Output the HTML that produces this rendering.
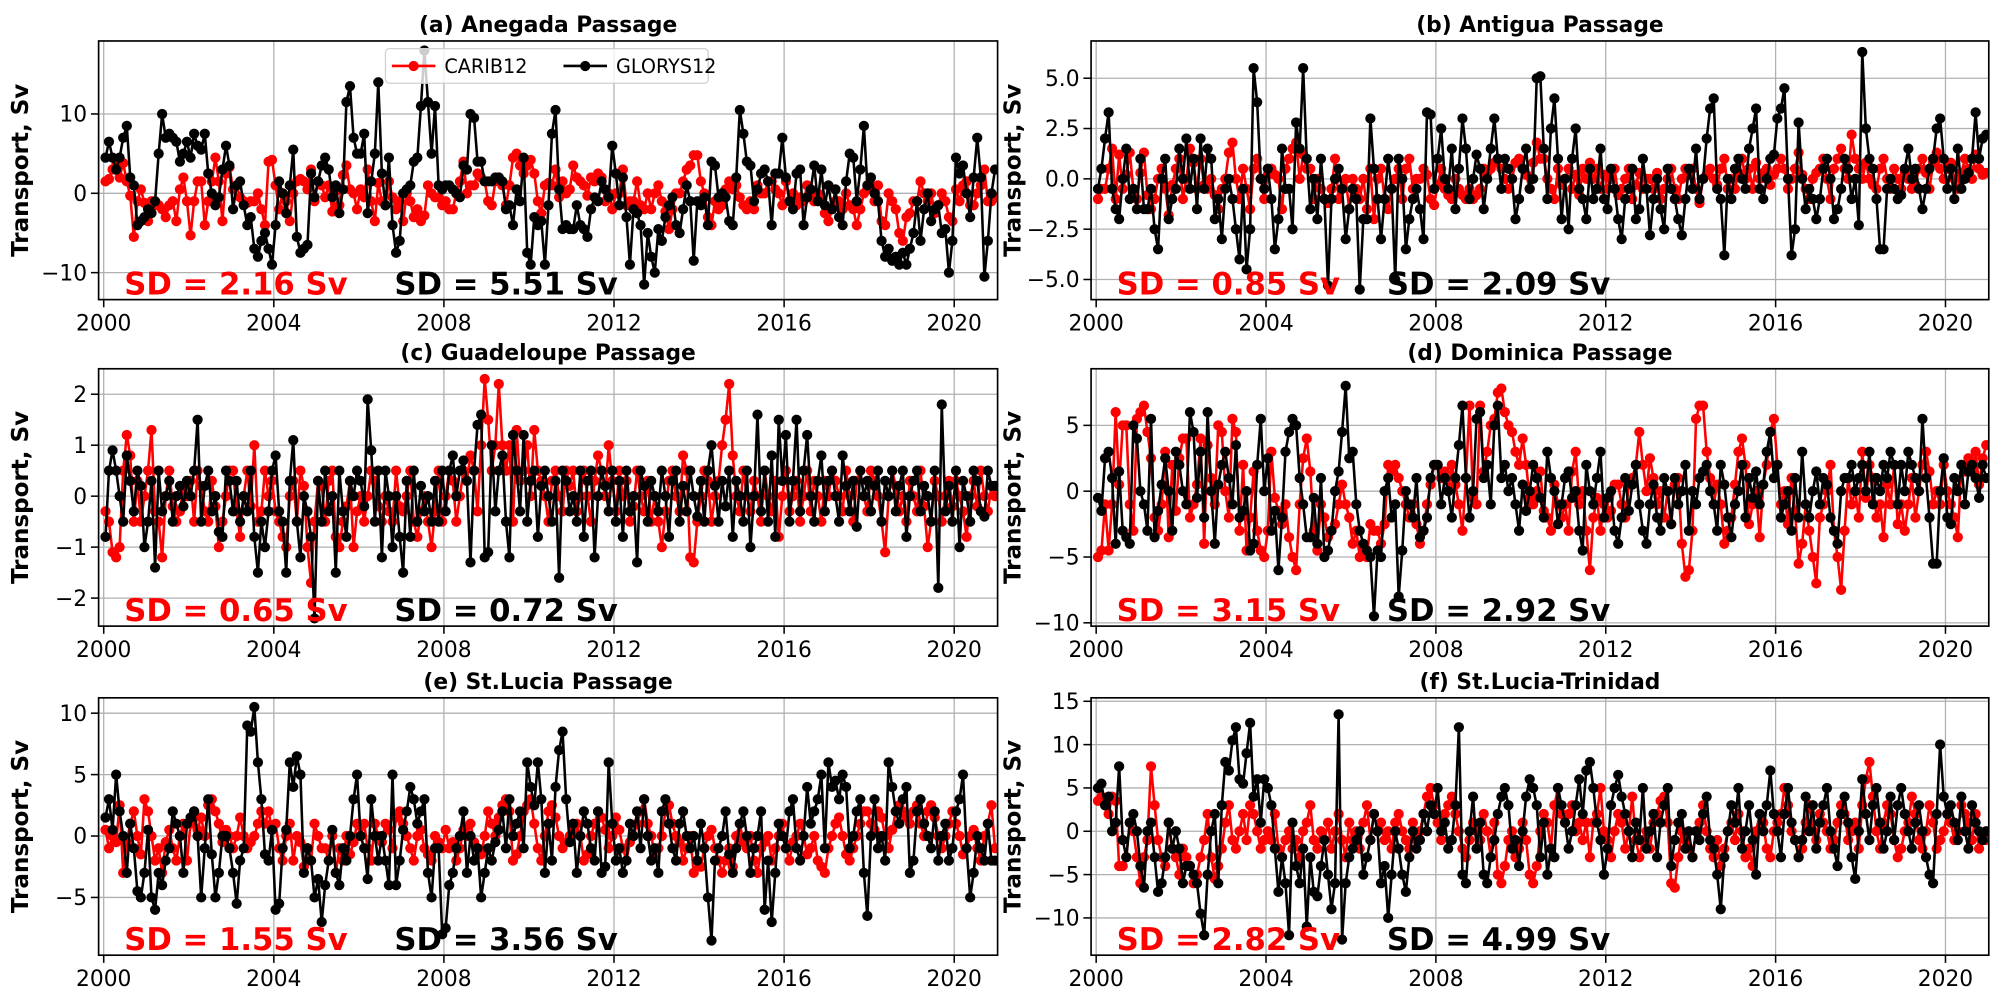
<!DOCTYPE html>
<html><head><meta charset="utf-8"><style>
html,body{margin:0;padding:0;background:#fff;}
svg{display:block;font-family:"DejaVu Sans","Liberation Sans",sans-serif;}
</style></head><body>
<svg id="chart" width="2008" height="1000" viewBox="0 0 1568 781" preserveAspectRatio="none" xmlns="http://www.w3.org/2000/svg"></svg>
<script>
const panelTitles = ["(a) Anegada Passage","(b) Antigua Passage","(c) Guadeloupe Passage","(d) Dominica Passage","(e) St.Lucia Passage","(f) St.Lucia-Trinidad"];
const sdCarib = ["2.16","0.85","0.65","3.15","1.55","2.82"];
const sdGlorys = ["5.51","2.09","0.72","2.92","3.56","4.99"];
const xTickYears = [2000,2004,2008,2012,2016,2020];
const startYear = 2000;

const aRed=[1.5,1.8,3,3.5,2,3.8,1.5,-0.3,-5.5,-1,0.5,-1.2,-3.5,-1,-1.5,-1.5,-2,-3,-1.5,-1,-3.5,0.5,2,-1,-5.3,-1,1.5,1.5,-4,-1,1.5,4.5,1.5,-3.5,2.5,3.3,0.5,1,-0.5,-1,-1.2,-1,-1,0,-2,-4,4,4.2,1,-2,0,-1,-3.5,0,1.5,1.8,1.5,0.5,3,-1,1.5,1,-0.5,1,-2.3,0.3,-1.5,2.3,3.5,0.5,0,-2,0.5,-0.5,3,-1,-3.5,1.3,-1,-1.5,1.5,-0.5,-2,-1,-3.5,0,-1,-3,-2,-3.5,-2.8,1,0,-0.5,-0.5,-1.5,-1,-2,-2,0,1.5,4,0,1,1,2.5,2,1.5,-1,-1.5,1.5,2,1,-1.5,1,4.5,5,3.5,2.5,3.5,4.2,2.5,-1,-2.5,1,1.3,1,3,-0.5,1.5,0,0.5,3.5,2,1.5,1,-0.3,2,1.5,2.5,2,-1,0,-2,0,0,3,-1.5,-1,-1,1.5,-1.5,-2,0,-2,0,1,-1,-2.3,-4.5,-2,0,0,1.5,3,3.5,4.8,4.8,1.5,0,-3,-4,-1,-2,-1.5,0.5,1.5,0.5,1,-0.5,-1.5,-2,-1,-2,1,0,0,1.5,1.5,0.5,0,-1.5,1.5,-1,0,-1.5,-0.5,-1,1,0.5,-1,0,-1,-2.5,-3.5,-2,-1,-1,-2,0,-1.5,-2,-4,-2,0,0.5,1,-1,1,-3.5,-4,0,-1,-2,-5,-6,-3,-2.5,-1,-1,1.5,0,-1,0,-2.5,-1.5,0,-1,-3,-3.5,0.5,-1,1,1.5,-1.5,-1.5,0,1,3,-1,-1,-0.5];
const aBlack=[4.5,6.5,4.5,3,4.5,7,8.5,2,1,-4,-3.5,-3,-2,-2.5,-1,5,10,7,7.5,7,6.5,4,5,6.5,4.5,7.5,6,5.5,7.5,2.5,0,-1.5,-0.5,3,6,3.5,-2,1,1.5,-1.5,-4,-3,-7,-8,-6,-5,-7,-9,-4,1.5,0,-2.5,1,5.5,-5.5,-7.5,-7,-6.5,2.5,-0.5,1.5,3.5,4.5,3,-0.5,1,-2.5,0.5,11.5,13.5,7,5,5,7.5,-2.5,1.5,5,14,2.5,-1.5,4.5,-4,-7.5,-6,0,0.5,1,4,4.5,11,18,11.5,5,11,1,0.5,1,1,0.5,0,-0.5,3.5,3,10,9.5,4,4,1.5,1.5,1.5,2,2,1.5,-2,-1.5,-4,0.5,-1,4.5,-7.5,-9,-3,-4,-3.5,-9,-1.5,7.5,10.5,0.5,-4.5,-4,-4.5,-4.5,-1.5,-4,-4.5,-5.5,-2,-0.5,-1,1.5,0.5,-0.5,6,2.5,-1.5,2,-3,-9,-2,-2.5,-4,-11.5,-5,-8,-10,-4.5,-6,-3,-1.5,-0.5,-4,-5,-2,1,-1,-8.5,-1,-1.5,-0.5,-4,4,3.5,-0.5,0,-0.5,-3.5,-4,2,10.5,7.5,4,3.5,-1,0.5,2.5,3,1.5,-4,2.5,2.5,7,2,-1,-2,2.5,3,-4,-0.5,0.5,3.5,-1,3,-1.5,1,-2,0.5,-3,-4,1.5,5,4.5,-1,3,8.5,1,2,0,-1,-6,-8,-7,-8.5,-8,-9,-7.5,-9,-7,-5,-1,-6,-2,0,-3.5,-2,-1.5,-5,-4.5,-10,-6,4.5,2.5,3.5,0,-3,2,7,2,-10.5,-6,0,3];
const bRed=[-1,-0.5,-0.5,0.5,1.5,-1,1.2,-0.5,0.2,1.3,-0.5,-1,0.3,1.3,-0.8,-1.5,-1,0,0.5,-0.5,-1.8,-0.3,0.5,1,-1,0,1.5,0.8,-0.5,1,-0.3,-0.5,0,-0.8,-1.5,-0.5,0,1.3,1.8,0,-1,0.5,-0.5,-1.5,0.5,1,0,-1,0.2,0.5,0.2,0,-1.5,0.5,1,1.5,1.8,0,1.2,0.5,0.5,-1,0,-0.5,-1,-1.2,-0.5,1,-1,-0.5,0,-1.5,0,-0.5,-1,0,-1.5,0.5,-2,0,0.5,-1,-1.5,-0.5,0,0.5,-1,0.5,1,-0.5,0,0,0.5,0.2,-1,-1.3,-0.3,0.5,-0.5,-0.8,-1,0,-0.5,-0.8,-1,-0.5,-1,-0.8,-0.5,0.5,0.3,0.5,0.8,1,0.5,0,-0.5,0,0.8,1,0.5,0.2,-0.5,0.8,1.8,1,1,0,-0.5,-1,0.5,-0.3,0,0.5,-0.5,0.2,-0.8,0.5,0,0.8,0,0.5,-0.5,0.2,-0.5,0,0.5,-0.8,-0.5,0,0.5,-1,-0.3,0.3,-0.5,0,0,-0.5,0.3,-1,-0.5,0,0.5,-0.5,-1,0,0.5,0.2,0.5,-0.5,-1.2,0,0.2,0.5,0,-0.3,0.5,1,-0.5,0,-0.5,0.3,1,0,0.5,-0.5,0.8,0,0.3,0.5,-0.3,0.2,0.5,1,0.5,-0.5,0,0.5,1.3,0.2,-0.5,-1,0,0.3,0.5,1,0,-1,0.5,1,1.5,0.5,0,2.2,1,0.5,0,0.8,0,-0.3,-0.5,0.5,1,0,-0.5,0.5,0,-0.5,0.3,0,-0.5,-0.3,0.5,1,0.3,-0.5,0.8,1.3,0.5,0,0.5,0.8,0,-0.5,0.3,1,0.5,0,1.2,0.5,0.2,0.3];
const bBlack=[-0.5,0.5,2,3.3,-0.5,-1.5,-2,0,1.5,-1,-0.5,-1.5,1,-1.5,-1.5,-0.5,-2.5,-3.5,0,1,-2,-1,-0.5,1.5,0,2,-0.5,1,-1.5,2,-0.5,1.5,1,-2,-1,-3,-0.5,0,-1,-2.5,-4,-0.5,-4.5,-2.5,5.5,3.8,0,-0.5,0.5,-1,-3.5,-2,1.5,-0.5,-0.5,-2.5,2.8,1.5,5.5,1,-1.5,0,-2,1,-1,-5.3,-1,0,0.5,-0.5,-3,-1.5,-0.5,-1,-5.5,-2,-2,3,0.5,-1,-3,-1,1,-0.5,-5,1,0,-3.5,-2,-1,-0.5,-1.5,-3,3.3,3.2,-0.5,1,2.5,0,-0.5,1.5,-1.5,0.5,3,1.5,-1,0,1.2,0.5,-1.5,0,1.5,3,1,-0.5,1,0.5,0,-2,-1,0.5,1.5,-0.5,0,5,5.1,1.5,-1,2.5,4,1,-2,0,-2.5,1,2.5,-0.5,-1,-2,0.5,-1,-0.5,1.5,-1,-1.5,0.5,-0.5,-2,-3,-1,-0.5,0.5,-2,-1.5,1,-0.5,-2.8,-1,0,-1.5,-2.5,0.5,-0.5,-1,-2,-2.8,-1,0.5,-0.5,1.5,-1,0,2,3.5,4,-0.5,-1,-3.8,0,-1,0.5,1,0,-0.5,1.5,2.5,3.5,-0.5,-1,0,1,1.2,3,3.5,4.5,0,-3.8,-2.5,2.8,0,-1.5,-0.5,-1,-2,-1,0.5,1,0,-2,-1.5,-0.5,1,0.5,-1,0,-2.3,6.3,2.5,1,0.5,-1,-3.5,-3.5,-0.5,0,-0.5,-1,-0.8,0.5,1.5,0,0.5,-0.5,-1.5,-0.5,0.5,1,2.5,3,1,-0.5,0.5,-1,1.5,-0.5,0,0.3,1,3.3,1,2,2.2];
const cRed=[-0.3,-0.5,-1.1,-1.2,-1,0.5,1.2,0.8,-0.5,0.3,-0.5,0,0.5,1.3,-0.3,-0.5,-1.2,0,0.5,-0.2,-0.5,-0.3,0.2,0,0.3,-0.5,0.5,0.2,-0.3,-0.5,0.3,-0.2,-1,-0.5,0,0.5,0.5,-0.3,-0.8,0,0.5,-0.2,1,-0.5,-0.3,0.5,0,0.3,-0.3,-0.5,-0.8,-1,0,0.3,-0.5,0.5,0.2,-1,-1.7,-0.5,0.3,0.2,-0.5,0.3,0.5,-0.8,-1,-0.5,-0.2,0.3,-1,-0.3,0,-0.5,0,0.5,0.3,-0.2,-0.5,0,-0.3,-0.5,0.5,-0.2,-0.3,0,0.5,-0.5,-0.8,-0.3,0,-0.5,-1,-0.3,0.5,-0.5,0,0.5,0.3,-0.5,0,0.5,0.3,0.8,0.5,-0.3,1,2.3,1.5,0.5,1,2.2,1,0.5,1,-0.5,1.3,0.3,0.5,1,0,1.3,0.5,0.3,0,-0.5,0.3,0.5,0,-0.3,0.5,0.2,0.5,-0.3,0,0.5,0,-0.5,0.3,0.8,0.5,0,1,0.3,-0.3,0.5,0,0.3,-0.5,-0.2,0.5,0,-0.3,0.3,-0.5,0,-0.5,-1,-0.3,0.3,0.5,0,-0.3,0.8,0.5,-1.2,-1.3,-0.5,0,0.5,0.3,-0.5,0,0.3,1,1.5,2.2,0.8,0,-0.3,0.5,0,-0.3,0.3,0,-0.5,0.5,0,-0.3,0.3,-0.8,0,0.5,-0.3,0,0.3,-0.5,0,0.5,-0.3,0.3,0,-0.5,0.3,0,0.5,0.3,0,-0.3,0.5,0,-0.5,0.3,0.5,0,-0.3,0.5,0.3,0,-0.5,-1.1,0,0.5,0.2,-0.3,0,-0.5,0.3,0,-0.3,0.5,-0.2,-1,-0.5,0.3,0,-0.5,0,0.3,-0.2,0.3,0,-0.3,-0.8,0,0.3,-0.2,0.5,0,-0.3,0.2,0];
const cBlack=[-0.8,0.5,0.9,0.5,0,-0.5,0.8,0.3,-0.3,0.5,0.2,-1,-0.5,0.3,-1.4,0.5,-0.3,0,0.3,-0.5,0,0.2,-0.2,0.3,0,0.5,1.5,-0.5,0.2,0.5,-0.3,0,-0.7,-0.8,0.5,0.3,-0.3,0.3,-0.5,0,-0.3,0.5,-0.8,-1.5,-0.5,-1,-0.3,0.5,0.8,-0.3,-0.5,-1.5,0.3,1.1,-0.5,-1.2,0,-0.3,-0.8,-2.4,0.3,-0.5,0.5,-0.3,0,-1.5,0.5,-0.3,-0.8,0.3,0,0.5,0.3,-0.2,1.9,0.9,-0.5,0.5,-1.2,0.5,0,-1,0,-0.8,-1.5,0.3,-0.8,0.5,-0.5,0.2,-0.3,0,-0.5,0.3,-0.5,0.5,-0.3,0.5,0.8,0,0.5,0.7,0.3,-1.3,0.5,1.4,1.6,-1.2,-1.1,1,-0.3,0.5,0.8,-0.5,-1.2,1.2,0.5,-0.3,1.2,-0.5,0.3,0.5,-0.8,0.2,0.5,0,-0.5,0.3,-1.6,0.5,0.3,-0.3,0,-0.5,0.5,-0.8,0.3,0.5,-1.2,0,0.5,0.2,-0.3,0.5,-0.5,0.3,-0.8,0.5,-0.3,0,-1.3,0.5,0.2,-0.5,0.3,0,-0.3,0.5,0,-0.8,0.3,0.5,-0.5,0.2,-0.3,0.5,0,-0.4,0.3,-0.5,0.5,1,0.2,-0.5,0.3,-0.2,0.5,-0.8,0.3,0,-0.5,0.5,-1,0,1.6,-0.3,0.5,-0.5,0.8,-0.8,1.5,0.3,1.2,-0.5,0.3,1.5,-0.3,0.5,1.2,0,-0.5,0.3,0.8,-0.3,0.3,0.5,0,-0.5,0.8,0.2,-0.3,0.3,-0.6,0.5,0,0.3,-0.3,0.2,0.5,-0.5,0.3,0,0.5,-0.3,0.2,0.5,-0.8,0,0.3,0.5,-0.3,0.2,0,-0.5,0.5,-1.8,1.8,-0.3,0.2,-0.5,0.5,-1,0.3,0,-0.5,0.5,0.3,-0.3,-0.4,0.5,0.2,0.2];
const dRed=[-5,-4.5,-1,-4.5,-1,6,0.5,5,5,-1,-3,5.5,6,6.5,4.5,2.5,-2,-3,-1,3,-3.5,2,-1.5,2.5,4,4,-2,-1,0.5,4,-4,3.5,1,-1,5,4.5,0,-2,5.5,4.5,-3,2,-4.5,-2,1.5,-3,-4.5,-5,-3,3,-0.5,-1.5,-2.5,-1,-3.5,-5,-6,-1,2.5,4,1.5,-3,-4.5,-1,-2,-3.5,-3,-2.5,-1,0.5,-1,-2,-4,-3,-5,-4.5,-5,-2.5,-3,-3,-4,-2.5,2,1.5,2,1,0,-1,-2,-1,-2.5,-4,-3,-1,0.5,2,2,1,1.5,0,2,0.5,-1,-3,1,6.5,-0.5,-1,6.5,1.5,3,5,5.5,7.5,7.8,6,5,4.5,3,2,4,2,-0.5,-1,0,1.5,-1.5,-2,-3,0.5,-1,-2,-1,-3,1.5,3,-1,0,-3,-6,-2,-0.5,-3,-1,-2,-1.5,0.5,0.5,-1,-2,0.5,1,2,4.5,2,0,2.5,1,-1,0,-2,0,-2.5,0.5,1,-4,-6.5,-6,-3,5.5,6.5,6.5,3,1,-1,0.5,-1,-4,-3,-2,0.5,3,4,2,-2.5,-1,0,-3.5,0.5,2,4.5,5.5,2,-1,0,-2.5,1,-1.5,-5.5,-4,-1,-3,-5,-7,-2,-1,0,2,-3,-5,-7.5,-3,1,-1,0,-2,3,-0.5,2,1,-2,-1,-3.5,0.5,-1,2,-2.5,-1,-3,-1,1,-2,0,2,3,1.5,-1,0,-1,2,0,-1,-2,-3.5,2,1.5,2.5,1.5,3,0.5,2.5,3.5];
const dBlack=[-0.5,-1.5,2.5,3,1,-4,1.5,-3,-3.5,-4,5,4,0,-1,-3,5.5,-3.5,-1.5,0.5,2.5,0,-3,3,2,0,-1,6,4.5,-0.5,3,-2,6,0,-4,0.5,2,3,1,-1,3.5,-2,-1.5,0,-4.5,-4,2,5.5,0,2.5,-3,-1.5,-6,-2,3,4.5,5.5,5,1,-1,-3.5,-3.5,-0.5,-4,1,-5,-4.5,-3,0,1.5,4.5,8,2.5,3,-1,-3,-4,-4.5,-5,-9.5,-4.5,-5,0,1,-2,-1,-8,-4.5,0,-1,-2,1,-3.5,-3,-2,1,2,2,-1,1,0,-2,1,3.5,6.5,1,-2,0,5.5,6,1,2,-1,5,6.5,1,2,0,1,-1,-3,0.5,-1.5,0,2,1,-0.5,-2,3,1,0,-2.5,-1,1,1.5,-0.5,0,-3,-4.5,2,0,-1,1,3,-2,-0.5,0,-3,-4,-2,1,-1.5,0.5,2,-1,-3,-4,-1,0.5,-2,-3,1,0,-2.5,1,-1,0,2,-3,0,-1,1,1.5,2,0,-1,-3,2,0.5,-2,-3.5,-1,0,2,-2,1,-0.5,1.5,-1,0.5,3,4.5,1,2,-2,-1,0,-3,1,-2,3,-1,-2,0,1.5,-1,1,0.5,-2,-3,-4,0,1,1,2,0,1,2,0,3,-1,1,0,2,1,3,2,-1,2,0,3,2,1,0,5.5,1,-2,-5.5,-5.5,0,2.5,-2,-2.5,1,0,2,-1,1.5,2,1,-0.5,2,1];
const eRed=[0.5,-1,0,-0.5,2.5,-3,-0.5,1,2,0,-1.5,3,2,0,-2,-1,-3,-0.5,0.5,-1,-2,0,1,-2,1,2,0.5,1.5,0,2.5,3,2,1,-0.5,0.5,0,-1,0,1.5,0,-1,-0.5,0,1,2,1,2,0.5,1,-1,-2,0,1,-2,0,-0.5,-2.5,-1,-2,1,0,-1,-1,-2,0,-3,-1,-2,0,-1.5,-0.5,1,0,1,-1,-2,1,0,-0.5,1,0.5,-1,1.5,2,1,0,-1,-2,0,0.5,-1,-1.5,-2,0,-0.5,-1,0.5,-1,-0.5,-2,-1,0.5,0,1,-0.5,-1,-1.5,0,2,1,0,1.5,2.5,3,2,-2,-1.5,0,2,2.5,3,1,-1,-2,0,2,2.5,1.5,0,-1,-0.5,0,0.5,1,0,-2,-1.5,0,1,2,1.5,0.5,-1,0,1.5,0.5,-1,-2,-0.5,0,1,2,3,1,0,-1.5,-1,0,2,2.5,1,0,-0.5,-2,-1,0,-3,-2,-2.5,-1,0,0.5,-1,-2,-3,-2,-1,-2.5,0,1,-0.5,-1,0,-2,-3,-1,-0.5,0,-2,-1,0,1,-1,-2,-0.5,0,1,0,-1.5,-1,0,-2,-2.5,-3,-1,0,1,1.5,0,-1.5,-2,-1,0,1,2,2,1,0.5,2,1.5,0,-1,0.5,2,2.5,2,1.5,1,2,2.5,1,0,2,2.5,1.5,0,-1,0,1,2,1,0,-1.5,-1,0,0.5,-1,-2,0,1,2.5,-1];
const eBlack=[1.5,3,0.5,5,2,0,-3,1,-1,-4.5,-5,-3,0.5,-5,-6,-3,-4,-2,-1,2,1,0,-3,1,1.5,2,0,-5,-1,3,-1.5,-5,-3,0,0,-1,-3,-5.5,-2,-1,9,8.5,10.5,6,3,-1.5,-2,0.5,-6,-5.5,-1,0.5,6,4,6.5,5,-3,-1,-2,-5,-3.5,-7,-4,-2,0.5,-3,-4,-1,-2,0,3,5,0,-1,-3.5,3,0,-2,0,-2,-4,5,-4,-2,0.5,2,4,3,1,2,3,-3,-5,-1,-1,-8,-7.5,-4,-3,-1,0,2,-3,0,-2,-1,-5,-3,-1,-2,-0.5,0.5,2,-1,3,0,1,2,-1,6,4,2.5,6,3,-3,1,-2,4,7,8.5,3,-0.5,1,-3,0,2,1,-1,-2,2,-3,-2.5,6,1,-2,-1,-3,-2,1,0,2,-1,3,0,-2,-1,-3,2,3,1,-1,-2,1,2,0,-1,0,-2,1,-1,-5,-8.5,-2,-1,0,2,-1.5,-3,-1,1,2,0,-3,-1,0,2,-6,-2,-7,-3,1,0,-1,2,3,-1,-2,0,4,1,2,3,5,-1,6,4,4.5,3,5,4,-1,0,2,3,-3,-6.5,0,3,-1,0,-2,6,4,2,1,3,4,-3,-2,2,3,1,0,-1,2,-2,0,1,-2,-1,2,3,5,-1,-5,-3,0,-1,-2,1,-2,-2];
const fRed=[3.5,4,3,2,4,3.5,-4,-4,-3,1,0,-3,-6,-3,-1,7.5,3,-1,-3,-4,1,-2,-3,-5,-2,-3,-4,-6,-5,-3,-1,2,-3,-5.5,-4,-2,1,3,-1,-2,0,2,-1,3,2,0,-2,-1,0,-1,2,-2,-3,-1,0,-2,-1,-3,0,1,3,-1,-2,0,-1,1,-2,0,2,-1,-3,1,-1,0,-2,1,3,-1,2,0,1,-1,0,-2,1,2,0,-1,-2,1,-1,0,2,4,5,3,1,-1,2,3,4,2,0,-2,-3,-1,1,0,-1,2,0,-3,1,-5,-6,-4,-1,0,-3,-2,1,-1,-5,-6,-4,0,2,1,-2,3,5,2,1,2,3,0,1,-1,1,-3,1,2,5,0,-1,-3,0,2,1,-2,0,4,-1,-3,-1,0,-2,1,2,3.5,4,1,-6,-6.5,-3,0,-1,-2,-3,0,1,3,0,-2,-3,-1,-4,-2,0,1,-1,2,0,-3,-2,-4,0,2,1,-2,-3,0,1,2,5,3,0,-1,-3,-2,1,3,0,-1,2,1,0,-2,-1,1,3,2,-1,0,1,-2,3,6,8,4,0,-2,1,3,2,-1,-3,-2,0,1,4,2,-1,-2,0,3,1,-2,-1,0,2,1,-1,0,3,2,1,-1,2,-2,-1,-1];
const fBlack=[5,5.5,3,4,0,1,7.5,-1,-3,1,2,0,-4,-6.5,0,1,-3,-7,-6,-3,1,-2,0,-2,-6,-4,-4,-5,-6,-9.5,-12,-5,0,2,-6,3,8,7,10.5,12,6,5.5,9,12.5,4,6,1,6,5,3,-2,-7,-3,-6,-12,1,-4,-6,-2,-11,-3,-7,-7.5,-4,-1,-5,-9,-6,13.5,-12.5,-6,-3,-2,-1,0,-5,-3,-1,2,0,-6,-4,-10,-5,0,-2,-5,-7,-3,0,-2,-1,2,0,3,2,5,0,1,-2,-1,3,12,-5,-6,0,4,-2,1,-5,-6,-3,-1,2,4,5,3,-2,-1,-4,0,4,6,5,3,-3,1,-5,-2,-3,5,3,1,-2,0,3,6,2,7,8,5,1,-1,-5,-2,3,5,6.5,4,2,0,-3,1,-1,5,-2,0,2,-3,1,3,5,-4,-1,1,2,-2,0,-3,0,-1,2,4,-1,-2,-5,-9,-3,0,3,1,5,-2,0,3,-1,-5,2,0,3,7,2,0,-3,2,5,1,-1,-3,-1,4,0,3,-2,1,3,5,0,-2,-4,2,4,1,-3,-5.5,0,6,2,-1,3,5,1,-2,0,4,-1,3,5,2,0,-2,1,3,0,-3,-5,-6,2,10,4,2,3,1,-1,4,0,-2,3,1,0,-1,0];

const carib = [aRed,bRed,cRed,dRed,eRed,fRed];
const glorys = [aBlack,bBlack,cBlack,dBlack,eBlack,fBlack];
const yTicksA=[-10,0,10], yTicksB=[-5,-2.5,0,2.5,5], yTicksC=[-2,-1,0,1,2], yTicksD=[-10,-5,0,5], yTicksE=[-5,0,5,10], yTicksF=[-10,-5,0,5,10,15];
const yTicks=[yTicksA,yTicksB,yTicksC,yTicksD,yTicksE,yTicksF];
const yLims=[[-13.4,19.2],[-6.0,6.85],[-2.55,2.5],[-10.25,9.3],[-9.7,11.25],[-14.3,15.4]];

const NS="http://www.w3.org/2000/svg";
const svg=document.getElementById('chart');
function mk(tag,attrs,parent){const e=document.createElementNS(NS,tag);for(const k in attrs)e.setAttribute(k,attrs[k]);(parent||svg).appendChild(e);return e;}
const cols=[[77,779],[852,1553]], rows=[[32,234],[288,489],[545,746]];
const xMin=1999.88, xMax=2021.02;
function fmt(v,p){let s=(p===1)?v.toFixed(1):String(v);return s.replace('-','\u2212');}

for(let p=0;p<6;p++){
  const [x0,x1]=cols[p%2], [y0,y1]=rows[Math.floor(p/2)];
  const [ymin,ymax]=yLims[p];
  const X=t=>x0+(t-xMin)/(xMax-xMin)*(x1-x0);
  const Y=v=>y1-(v-ymin)/(ymax-ymin)*(y1-y0);
  const g=mk('g',{});
  
  
  const clipId='clip'+p;
  const cp=mk('clipPath',{id:clipId},g); mk('rect',{x:x0,y:y0,width:x1-x0,height:y1-y0},cp);
  xTickYears.forEach(yr=>{
    const gx=X(yr);
    const l=mk('line',{x1:gx,x2:gx,y1:y0,y2:y1,stroke:'#b0b0b0','stroke-width':1},g);
    
    
    mk('line',{x1:gx,x2:gx,y1:y1,y2:y1+6,stroke:'#000','stroke-width':1.2},g);
    const t=mk('text',{x:gx,y:y1+24,'font-size':17,'text-anchor':'middle',fill:'#000'},g);
    t.textContent=yr;
    
    
  });
  yTicks[p].forEach(v=>{
    const gy=Y(v);
    const l=mk('line',{x1:x0,x2:x1,y1:gy,y2:gy,stroke:'#b0b0b0','stroke-width':1},g);
    
    
    mk('line',{x1:x0-6,x2:x0,y1:gy,y2:gy,stroke:'#000','stroke-width':1.2},g);
    const t=mk('text',{x:x0-9,y:gy+6,'font-size':17,'text-anchor':'end',fill:'#000'},g);
    t.textContent=fmt(v,p===1?1:0);
    
    
  });
  [[carib[p],'#ff0000','carib12'],[glorys[p],'#000000','glorys12']].forEach(([arr,col,nm])=>{
    const sg=mk('g',{'clip-path':'url(#'+clipId+')'},g);
    
    
    const pts=arr.map((v,i)=>[X(startYear+(i+0.5)/12),Y(v)]);
    const pl=mk('polyline',{points:pts.map(q=>q[0].toFixed(1)+','+q[1].toFixed(1)).join(' '),fill:'none',stroke:col,'stroke-width':2,'stroke-linejoin':'round'},sg);
    
    
    pts.forEach(q=>{
      const c=mk('circle',{cx:q[0].toFixed(1),cy:q[1].toFixed(1),r:4,fill:col},sg);
      
      
    });
  });
  const fr=mk('rect',{x:x0,y:y0,width:x1-x0,height:y1-y0,fill:'none',stroke:'#000','stroke-width':1.3},g);
  
  
  const ti=mk('text',{x:(x0+x1)/2,y:y0-7,'font-size':17,'font-weight':'bold','text-anchor':'middle'},g);
  ti.textContent=panelTitles[p];
  
  
  const yl=x0-55, ym=(y0+y1)/2;
  const yt=mk('text',{x:yl,y:ym,'font-size':18,'font-weight':'bold','text-anchor':'middle',transform:'rotate(-90 '+yl+' '+ym+')'},g);
  yt.textContent='Transport, Sv';
  
  
  const s1=mk('text',{x:x0+20,y:y1-4,'font-size':24,'font-weight':'bold',fill:'#ff0000'},g);
  s1.textContent='SD = '+sdCarib[p]+' Sv';
  
  
  const s2=mk('text',{x:x0+231,y:y1-4,'font-size':24,'font-weight':'bold',fill:'#000'},g);
  s2.textContent='SD = '+sdGlorys[p]+' Sv';
  
  
}
const lg=mk('g',{});


mk('rect',{x:301,y:38,width:252,height:27,rx:3,fill:'#fff','fill-opacity':0.8,stroke:'#d0d0d0'},lg);
[[306,'#ff0000','CARIB12'],[440,'#000','GLORYS12']].forEach(([lx,col,txt])=>{
  const e=mk('g',{},lg);
  
  
  mk('line',{x1:lx,x2:lx+34,y1:51.5,y2:51.5,stroke:col,'stroke-width':2},e);
  mk('circle',{cx:lx+17,cy:51.5,r:4,fill:col},e);
  const t=mk('text',{x:lx+41,y:57,'font-size':15},e);
  t.textContent=txt;
});
</script>
</body></html>
